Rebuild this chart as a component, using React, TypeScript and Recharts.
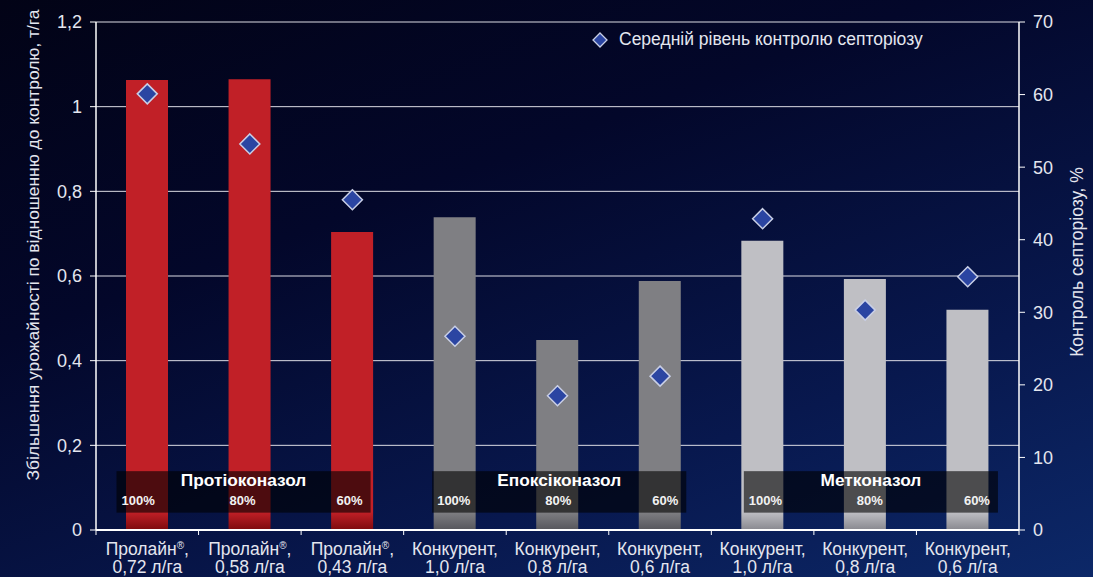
import React from 'react';
import {
  ComposedChart,
  Bar,
  Cell,
  Scatter,
  XAxis,
  YAxis,
  CartesianGrid,
  LabelList,
} from 'recharts';

const products = ['Пролайн®', 'Пролайн®', 'Пролайн®', 'Конкурент', 'Конкурент', 'Конкурент', 'Конкурент', 'Конкурент', 'Конкурент'];
const rates = ['0,72 л/га', '0,58 л/га', '0,43 л/га', '1,0 л/га', '0,8 л/га', '0,6 л/га', '1,0 л/га', '0,8 л/га', '0,6 л/га'];
const yieldGain = [1.063, 1.065, 0.704, 0.739, 0.449, 0.588, 0.683, 0.593, 0.52];
const septoriaControl = [60.1, 53.2, 45.5, 26.7, 18.5, 21.2, 42.9, 30.3, 34.9];
const barColors = ['#c12027', '#c12027', '#c12027', '#7f7f83', '#7f7f83', '#7f7f83', '#bfbfc4', '#bfbfc4', '#bfbfc4'];
const barShades = ['#7c0a0e', '#7c0a0e', '#7c0a0e', '#56565c', '#56565c', '#56565c', '#88888f', '#88888f', '#88888f'];
const groupNames = ['Протіоконазол', 'Епоксіконазол', 'Метконазол'];
const groupDoses = ['100%', '80%', '60%'];
const groupBand = [0.041, 0.139];
const leftTicks = [0, 0.2, 0.4, 0.6, 0.8, 1, 1.2];
const rightTicks = [0, 10, 20, 30, 40, 50, 60, 70];
const legendLabel = 'Середній рівень контролю септоріозу';
const leftTitle = 'Збільшення урожайності по відношенню до контролю, т/га';
const rightTitle = 'Контроль септоріозу, %';

const cats = products.map((p, i) => `${p}, ${rates[i]}`);
const data = cats.map((c, i) => ({
  cat: c,
  yieldGain: yieldGain[i],
  control: septoriaControl[i],
}));

// layout constants
const W = 1093;
const H = 577;
const M_TOP = 22;
const LEFT_W = 96;
const RIGHT_W = 74;
const X_H = 47;
const PLOT_W = W - LEFT_W - RIGHT_W;
const PLOT_H = H - M_TOP - X_H;
const STEP = PLOT_W / cats.length;
const LEFT_MAX = 1.2;
const PXU = PLOT_H / LEFT_MAX;
const BOX_W = 2 * STEP + 49;
const BOX_SHIFT = [-6, 2, 6];
const BASE_Y = M_TOP + PLOT_H;

const FONT = '"Liberation Sans", Arial, Helvetica, sans-serif';
const TEXT = '#e4e6ef';

const fmt = (v: number) => String(v).replace('.', ',');

const XTick = (props: any) => {
  const { x, y, payload, index } = props;
  const i = payload && typeof payload.index === 'number' ? payload.index : index;
  const prod = products[i] || '';
  const parts = prod.split('®');
  return (
    <g>
      <line x1={x - STEP / 2} x2={x - STEP / 2} y1={y} y2={y + 5} stroke="#ffffff" strokeWidth={1} />
      {i === products.length - 1 && (
        <line x1={x + STEP / 2} x2={x + STEP / 2} y1={y} y2={y + 5} stroke="#ffffff" strokeWidth={1} />
      )}
      <text x={x} y={y + 25} textAnchor="middle" fill={TEXT} fontSize={17.5} fontFamily={FONT}>
        {parts[0]}
        {parts.length > 1 && (
          <tspan fontSize={10} dy={-6}>®</tspan>
        )}
        {parts.length > 1 ? <tspan dy={6}>,</tspan> : ','}
      </text>
      <text x={x} y={y + 43} textAnchor="middle" fill={TEXT} fontSize={17.5} fontFamily={FONT}>
        {rates[i]}
      </text>
    </g>
  );
};

const Diamond = (props: any) => {
  const { cx, cy } = props;
  if (cx == null || cy == null) return null;
  const r = 10;
  return (
    <polygon
      points={`${cx},${cy - r} ${cx + r},${cy} ${cx},${cy + r} ${cx - r},${cy}`}
      fill="#2b45a2"
      stroke="#c9cfe6"
      strokeWidth={1.5}
    />
  );
};

const GroupBox = (props: any) => {
  const { x, y, width, height, index } = props;
  if (index % 3 !== 0) return null;
  const g = Math.floor(index / 3);
  const c0 = x + width / 2;
  const base = y + height;
  const top = base - groupBand[1] * PXU;
  const bottom = base - groupBand[0] * PXU;
  const center = c0 + STEP + BOX_SHIFT[g];
  const left = center - BOX_W / 2;
  const right = center + BOX_W / 2;
  return (
    <g>
      <rect x={left} y={top} width={right - left} height={bottom - top} fill="rgba(0,0,0,0.6)" />
      <text x={center} y={top + 15} textAnchor="middle" fill="#ffffff" fontSize={17.3} fontWeight="bold" fontFamily={FONT}>
        {groupNames[g]}
      </text>
      <text x={left + 5} y={top + 34} textAnchor="start" fill="#f2f2f2" fontSize={13} fontWeight="bold" fontFamily={FONT}>
        {groupDoses[0]}
      </text>
      <text x={center - 1} y={top + 34} textAnchor="middle" fill="#f2f2f2" fontSize={13} fontWeight="bold" fontFamily={FONT}>
        {groupDoses[1]}
      </text>
      <text x={right - 8} y={top + 34} textAnchor="end" fill="#f2f2f2" fontSize={13} fontWeight="bold" fontFamily={FONT}>
        {groupDoses[2]}
      </text>
    </g>
  );
};

export default function App() {
  return (
    <div
      style={{
        position: 'fixed',
        left: 0,
        top: 0,
        width: W,
        height: H,
        background: 'linear-gradient(160deg, #020316 0%, #03072a 35%, #08184e 72%, #0c2868 100%)',
        fontFamily: FONT,
      }}
    >
      <ComposedChart width={W} height={H} data={data} margin={{ top: M_TOP, right: 0, bottom: 0, left: 0 }}>
        <defs>
          {barColors.map((c, i) => (
            <linearGradient
              key={i}
              id={`barGrad${i}`}
              gradientUnits="userSpaceOnUse"
              x1={0}
              x2={0}
              y1={BASE_Y - 18}
              y2={BASE_Y}
            >
              <stop offset="0" stopColor={c} />
              <stop offset="1" stopColor={barShades[i]} />
            </linearGradient>
          ))}
        </defs>
        <CartesianGrid vertical={false} horizontal stroke="#dcdce4" strokeWidth={1} yAxisId="left" />
        <XAxis
          dataKey="cat"
          height={X_H}
          tick={<XTick />}
          tickLine={false}
          tickSize={0}
          tickMargin={0}
          interval={0}
          axisLine={{ stroke: '#ffffff', strokeWidth: 2 }}
        />
        <YAxis
          yAxisId="left"
          orientation="left"
          width={LEFT_W}
          domain={[0, LEFT_MAX]}
          ticks={leftTicks}
          tickFormatter={fmt}
          tick={{ fill: TEXT, fontSize: 18, fontFamily: FONT }}
          tickSize={6}
          tickMargin={8}
          tickLine={{ stroke: '#ffffff' }}
          axisLine={{ stroke: '#ffffff', strokeWidth: 1.5 }}
          label={{
            content: (p: any) => {
              const vb = p.viewBox || {};
              const cx = vb.x + 33;
              const cy = vb.y + vb.height / 2 - 31;
              return (
                <text
                  x={cx}
                  y={cy}
                  transform={`rotate(-90, ${cx}, ${cy})`}
                  textAnchor="middle"
                  dominantBaseline="central"
                  fill={TEXT}
                  fontSize={17.4}
                  fontFamily={FONT}
                >
                  {leftTitle}
                </text>
              );
            },
          }}
        />
        <YAxis
          yAxisId="right"
          orientation="right"
          width={RIGHT_W}
          domain={[0, 70]}
          ticks={rightTicks}
          tick={{ fill: TEXT, fontSize: 18, fontFamily: FONT }}
          tickSize={6}
          tickMargin={8}
          tickLine={{ stroke: '#ffffff' }}
          axisLine={{ stroke: '#ffffff', strokeWidth: 1.5 }}
          label={{
            content: (p: any) => {
              const vb = p.viewBox || {};
              const cx = vb.x + 58;
              const cy = vb.y + vb.height / 2 - 14;
              return (
                <text
                  x={cx}
                  y={cy}
                  transform={`rotate(-90, ${cx}, ${cy})`}
                  textAnchor="middle"
                  dominantBaseline="central"
                  fill={TEXT}
                  fontSize={17.5}
                  fontFamily={FONT}
                >
                  {rightTitle}
                </text>
              );
            },
          }}
        />
        <Bar yAxisId="left" dataKey="yieldGain" barSize={42} isAnimationActive={false} name={legendLabel}>
          {data.map((d, i) => (
            <Cell key={d.cat} fill={`url(#barGrad${i})`} />
          ))}
          <LabelList dataKey="yieldGain" content={<GroupBox />} />
        </Bar>
        <Scatter
          yAxisId="right"
          dataKey="control"
          shape={<Diamond />}
          isAnimationActive={false}
          name={legendLabel}
        />
      </ComposedChart>
      <div
        style={{
          position: 'absolute',
          top: 29,
          left: 590,
          display: 'flex',
          alignItems: 'center',
          fontFamily: FONT,
          fontSize: 17.5,
          color: TEXT,
          whiteSpace: 'nowrap',
        }}
      >
        <svg width={20} height={20} style={{ marginRight: 9 }}>
          <polygon points="10,3 17,10 10,17 3,10" fill="#2b45a2" stroke="#c9cfe6" strokeWidth={1.3} />
        </svg>
        <span>{legendLabel}</span>
      </div>
    </div>
  );
}
